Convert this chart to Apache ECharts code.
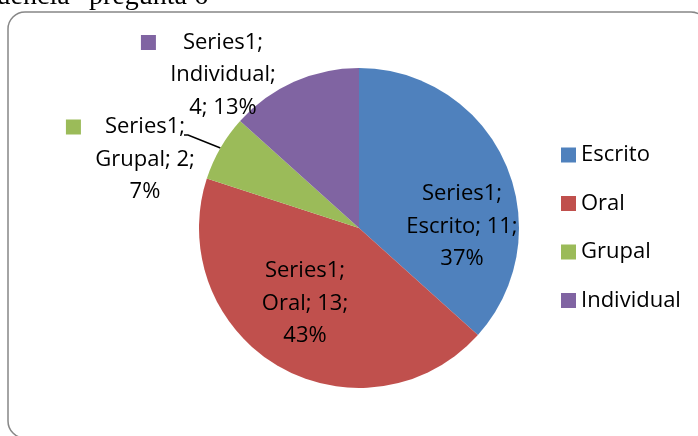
<!DOCTYPE html>
<html><head><meta charset="utf-8">
<script src="https://cdn.jsdelivr.net/npm/echarts@6/dist/echarts.min.js"></script>
<style>html,body{margin:0;padding:0;background:#fff}#c{width:698px;height:436px}</style>
</head><body><div id="c"></div>
<script>
const seriesName = 'Series1';
const categories = ['Escrito', 'Oral', 'Grupal', 'Individual'];
const values = [11, 13, 2, 4];
const colors = ['#4F81BD', '#C0504D', '#9BBB59', '#8064A2'];
const headingText = 'Frecuencia\u201D pregunta 6';

const FONT = 'Open Sans';
const FS = 22;
const LH = 32.5;

// label anchor (centre of label block) for each slice
const labelCenters = [[462, 226.5], [305, 303.5], [145, 159.5], [223, 75]];

function labelFormatter(p) {
  const pct = Math.round(p.percent) + '%';
  let body;
  if (p.name.length > 7) body = p.name + ';\n' + p.value + '; ' + pct;
  else body = p.name + '; ' + p.value + ';\n' + pct;
  if (p.dataIndex >= 2) {
    return '{sq' + p.dataIndex + '|}{gap' + p.dataIndex + '|}' + seriesName + ';{pad' + p.dataIndex + '|}\n' + body;
  }
  return seriesName + ';\n' + body;
}

const rich = {
  sq2: { width: 15, height: 15, backgroundColor: colors[2], lineHeight: LH },
  sq3: { width: 15, height: 15, backgroundColor: colors[3], lineHeight: LH },
  gap2: { width: 24, lineHeight: LH },
  gap3: { width: 27, lineHeight: LH },
  pad2: { width: 39, lineHeight: LH },
  pad3: { width: 42, lineHeight: LH }
};

const chart = echarts.init(document.getElementById('c'), null, { renderer: 'canvas' });
chart.setOption({
  animation: false,
  color: colors,
  graphic: [
    {
      type: 'rect', z: 0,
      shape: { x: 8, y: 12, width: 700, height: 426, r: 17 },
      style: { fill: 'none', stroke: '#878787', lineWidth: 1.5 }
    },
    {
      type: 'text', z: 10,
      style: {
        text: headingText, x: 208, y: -3,
        align: 'right', verticalAlign: 'middle',
        font: '28px "Liberation Serif"', fill: '#000'
      }
    }
  ],
  legend: {
    orient: 'vertical',
    left: 556, top: 138,
    itemWidth: 15, itemHeight: 15, itemGap: 24.5,
    icon: 'rect',
    data: categories,
    textStyle: { fontFamily: FONT, fontSize: FS, color: '#000', lineHeight: 24 }
  },
  series: [{
    type: 'pie',
    name: seriesName,
    center: [359, 228],
    radius: 160,
    startAngle: 90,
    clockwise: true,
    avoidLabelOverlap: false,
    label: {
      show: true,
      formatter: labelFormatter,
      fontFamily: FONT, fontSize: FS, color: '#000',
      lineHeight: LH, align: 'center',
      rich: rich
    },
    labelLine: { show: false },
    labelLayout: function (params) {
      const i = params.dataIndex;
      const o = { x: labelCenters[i][0], y: labelCenters[i][1], align: 'center', verticalAlign: 'middle' };
      if (i === 2 && params.labelLinePoints) {
        o.labelLinePoints = [params.labelLinePoints[0], [188, 135], [184, 135]];
      }
      return o;
    },
    data: categories.map((c, i) => {
      const d = { name: c, value: values[i] };
      if (i < 2) d.label = { position: 'inside' };
      else d.label = { position: 'outside' };
      if (i === 2) d.labelLine = { show: true, length: 10, length2: 10, lineStyle: { color: '#000', width: 1.5 } };
      return d;
    })
  }]
});
</script>
</body></html>
